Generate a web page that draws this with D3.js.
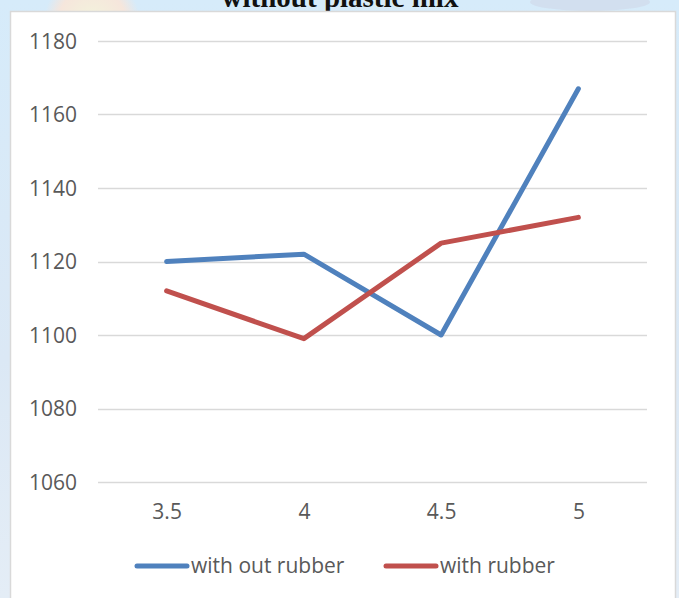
<!DOCTYPE html>
<html>
<head>
<meta charset="utf-8">
<script src="https://cdn.jsdelivr.net/npm/d3@7"></script>
<style>
  html, body { margin: 0; padding: 0; background: #ffffff; }
  svg { display: block; }
</style>
</head>
<body>
<svg id="chart" width="679" height="598"></svg>
<script>
// Categories (x axis) and series values
const categories = ["3.5", "4", "4.5", "5"];
const withoutRubber = [1120, 1122, 1100, 1167];
const withRubber = [1112, 1099, 1125, 1132];
const seriesNames = ["with out rubber", "with rubber"];
const seriesColors = ["#4f81bd", "#c0504d"];
const yTicks = [1060, 1080, 1100, 1120, 1140, 1160, 1180];
const titleText = "without plastic mix";

const svg = d3.select("#chart");

// page backdrop behind the chart frame
const defs = svg.append("defs");
const bg = defs.append("linearGradient").attr("id", "bg").attr("x1", 0).attr("y1", 0).attr("x2", 0).attr("y2", 1);
bg.append("stop").attr("offset", "0%").attr("stop-color", "#d6ebfa");
bg.append("stop").attr("offset", "60%").attr("stop-color", "#dbe8f5");
bg.append("stop").attr("offset", "100%").attr("stop-color", "#e4edf6");
svg.append("rect").attr("width", 679).attr("height", 598).attr("fill", "url(#bg)");
const glow = defs.append("radialGradient").attr("id", "glow");
glow.append("stop").attr("offset", "0%").attr("stop-color", "#f2f4dc");
glow.append("stop").attr("offset", "70%").attr("stop-color", "#f6e6dc");
glow.append("stop").attr("offset", "100%").attr("stop-color", "#f6e6dc").attr("stop-opacity", 0);
svg.append("circle").attr("cx", 92).attr("cy", 22).attr("r", 48).attr("fill", "url(#glow)");
svg.append("ellipse").attr("cx", 590).attr("cy", 2).attr("rx", 60).attr("ry", 9)
  .attr("fill", "#cfd7e8").attr("opacity", 0.6);

// title sitting above the frame
svg.append("text")
  .attr("x", 340).attr("y", 7)
  .attr("text-anchor", "middle")
  .attr("font-family", "'Liberation Serif', 'DejaVu Serif', serif")
  .attr("font-weight", "bold")
  .attr("font-size", 29)
  .attr("fill", "#111")
  .text(titleText);

// chart frame
svg.append("rect")
  .attr("x", 10.5).attr("y", 11.5)
  .attr("width", 665).attr("height", 600)
  .attr("fill", "#ffffff")
  .attr("stroke", "#d9d9d9").attr("stroke-width", 1.5);

const plot = { left: 98, right: 647, top: 41, bottom: 482 };

const x = d3.scalePoint()
  .domain(categories)
  .range([plot.left, plot.right])
  .padding(0.5);

const y = d3.scaleLinear()
  .domain([1060, 1180])
  .range([plot.bottom, plot.top]);

const font = "'Open Sans', 'Noto Sans', 'Liberation Sans', sans-serif";
const fontSize = 21;

// horizontal gridlines
svg.append("g")
  .selectAll("line")
  .data(yTicks)
  .join("line")
  .attr("x1", plot.left).attr("x2", plot.right)
  .attr("y1", d => Math.round(y(d)) + 0.5).attr("y2", d => Math.round(y(d)) + 0.5)
  .attr("stroke", "#d9d9d9").attr("stroke-width", 1.5);

// y axis labels
const yAxis = svg.append("g")
  .attr("transform", `translate(${plot.left - 21},0)`)
  .call(d3.axisLeft(y).tickValues(yTicks).tickSize(0).tickPadding(0).tickFormat(d3.format("d")));
yAxis.select(".domain").remove();
yAxis.selectAll("text")
  .attr("font-family", font).attr("font-size", fontSize).attr("fill", "#595959")
  .attr("dy", "0.35em");

// x axis labels
const xAxis = svg.append("g")
  .attr("transform", `translate(0,${plot.bottom + 22})`)
  .call(d3.axisBottom(x).tickSize(0).tickPadding(0));
xAxis.select(".domain").remove();
xAxis.selectAll("text")
  .attr("font-family", font).attr("font-size", fontSize).attr("fill", "#595959")
  .attr("dy", "0.71em");

// series lines
const line = d3.line()
  .x((d, i) => x(categories[i]))
  .y(d => y(d));

[withoutRubber, withRubber].forEach((vals, k) => {
  svg.append("path")
    .datum(vals)
    .attr("d", line)
    .attr("fill", "none")
    .attr("stroke", seriesColors[k])
    .attr("stroke-width", 5)
    .attr("stroke-linecap", "round")
    .attr("stroke-linejoin", "round");
});

// legend
const legendItems = [
  { name: seriesNames[0], color: seriesColors[0], x: 137 },
  { name: seriesNames[1], color: seriesColors[1], x: 386 }
];
const legendY = 566;
const lg = svg.append("g")
  .selectAll("g")
  .data(legendItems)
  .join("g")
  .attr("transform", d => `translate(${d.x},${legendY})`);
lg.append("line")
  .attr("x1", 0).attr("x2", 50).attr("y1", 0).attr("y2", 0)
  .attr("stroke", d => d.color).attr("stroke-width", 5).attr("stroke-linecap", "round");
lg.append("text")
  .attr("x", 54).attr("y", 0).attr("dy", "0.35em")
  .attr("font-family", font).attr("font-size", fontSize).attr("fill", "#595959")
  .text(d => d.name);
</script>
</body>
</html>
